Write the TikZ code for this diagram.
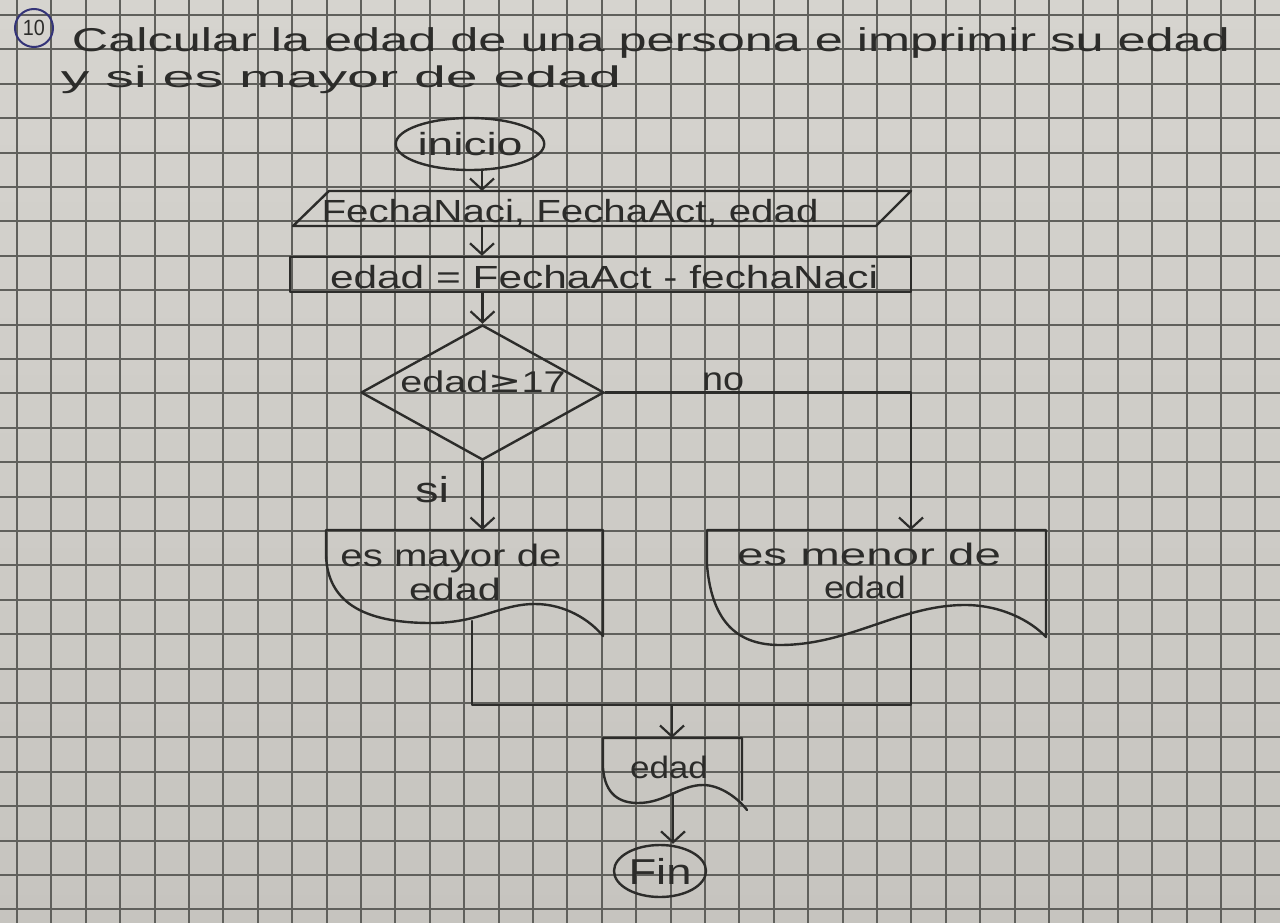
\documentclass[tikz,border=0pt]{standalone}
\usepackage{fontspec}
\setmainfont{Liberation Sans}
\newfontfamily\symfont{DejaVu Sans}
\usepackage{graphicx}
\usetikzlibrary{arrows.meta,shapes.geometric}
\definecolor{paperlight}{RGB}{214,212,207}
\definecolor{paperdark}{RGB}{198,196,191}
\definecolor{gridline}{RGB}{96,96,92}
\definecolor{ink}{RGB}{44,44,42}
\definecolor{penblue}{RGB}{52,52,120}
% handwritten-looking label: width (pt), font size (pt), text
\newcommand{\hw}[3]{\resizebox{#1pt}{\height}{\fontsize{#2pt}{#2pt}\selectfont #3}}

\begin{document}
\begin{tikzpicture}[x=1pt,y=-1pt,
  ink/.style={draw=ink, line width=2.4pt, line cap=round, line join=round},
  arr/.style={ink, -{Straight Barb[length=11pt,width=24pt,line width=2.2pt]}},
  lbl/.style={inner sep=0pt, anchor=base, text=ink},
]
\useasboundingbox (0,0) rectangle (1280,923);
\shade[top color=paperlight, bottom color=paperdark] (0,0) rectangle (1280,923);

% squared paper
\foreach \i in {0,...,36}
  \draw[gridline, line width=2pt] ({17+34.4*\i},0) -- ({17+34.4*\i},923);
\foreach \j in {0,...,26}
  \draw[gridline, line width=2pt] (0,{15+34.4*\j}) -- (1280,{15+34.4*\j});

% heading
\node[circle, draw=penblue, line width=2pt, minimum size=38pt, inner sep=0pt, text=ink] (num) at (34,28) {\hw{22}{22}{10}};
\node[lbl] (t1) at (651,52) {\hw{1158}{33}{Calcular la edad de una persona e imprimir su edad}};
\node[lbl] (t2) at (341,88) {\hw{560}{30}{y si es mayor de edad}};

% start
\node[ink, ellipse, minimum width=136pt, minimum height=52pt, inner sep=0pt, text=ink] (inicio) at (470,144) {\hw{105}{32}{inicio}};

% input parallelogram
\coordinate (pTL) at (329,191);
\coordinate (pTR) at (911,191);
\coordinate (pBR) at (876,226);
\coordinate (pBL) at (293,226);
\draw[ink] (pTL) -- (pTR) -- (pBR) -- (pBL) -- cycle;
\coordinate (pIn) at (482,191);
\coordinate (pOut) at (482,226);
\node[lbl] (datos) at (570,222) {\hw{497}{32}{FechaNaci, FechaAct, edad}};

% process
\node[ink, minimum width=621pt, minimum height=35pt, inner sep=0pt] (calc) at (600.5,274.5) {};
\node[lbl] (calctxt) at (604,288) {\hw{548}{32}{edad = FechaAct - fechaNaci}};

% decision
\node[ink, diamond, aspect=1.8, minimum width=243pt, minimum height=135pt, inner sep=0pt] (dec) at (482.5,392.5) {};
\node[lbl] (dectxt) at (483,392) {\hw{165}{30}{edad{\symfont ≥}17}};
\node[lbl] (no) at (723,390) {\hw{42}{33}{no}};
\node[lbl] (si) at (432,502) {\hw{34}{36}{si}};

\draw[arr] (inicio.south -| pIn) -- (pIn);
\draw[arr] (pOut) -- (calc.north -| pOut);
\draw[arr] (calc.south -| dec.north) -- (dec.north);

% output documents
\coordinate (mayIn) at (479,530);
\coordinate (menIn) at (911,530);
\draw[arr] (dec.south) -- (dec.south |- mayIn);
\draw[arr] (dec.east) -| (menIn);

\coordinate (mayTL) at (326,530);
\coordinate (mayTR) at (603,530);
\draw[ink] (mayTR) -- (mayTL) -- (326,556)
  .. controls (328,600) and (360,623) .. (431,623)
  .. controls (480,623) and (500,604) .. (535,604)
  .. controls (565,604) and (590,620) .. (603,636) -- (mayTR);
\node[lbl] (mayA) at (451,566) {\hw{221}{31}{es mayor de}};
\node[lbl] (mayB) at (455,600) {\hw{92}{31}{edad}};

\coordinate (menTL) at (707,530);
\coordinate (menTR) at (1046,530);
\draw[ink] (menTR) -- (menTL) -- (707,565)
  .. controls (712,625) and (740,645) .. (780,645)
  .. controls (850,645) and (900,605) .. (965,605)
  .. controls (1000,605) and (1030,620) .. (1046,637) -- (menTR);
\node[lbl] (menA) at (869,565) {\hw{264}{31}{es menor de}};
\node[lbl] (menB) at (865,598) {\hw{82}{31}{edad}};

% merge
\coordinate (mayOut) at (472,621);
\coordinate (menOut) at (911,612);
\coordinate (join) at (672,705);
\draw[ink] (mayOut) |- (join) -| (menOut);

% final output
\coordinate (outTL) at (603,738);
\coordinate (outTR) at (742,738);
\draw[arr] (join) -- (join |- outTL);
\draw[ink] (742,800) -- (outTR) -- (outTL) -- (603,768)
  .. controls (605,795) and (620,803) .. (638,803)
  .. controls (665,803) and (680,785) .. (703,785)
  .. controls (720,785) and (738,798) .. (747,810);
\node[lbl] (outtxt) at (669,778) {\hw{78}{31}{edad}};

% end
\node[ink, ellipse, minimum width=92pt, minimum height=52pt, inner sep=0pt, text=ink] (fin) at (660,871) {\hw{63}{36}{Fin}};
\coordinate (outBot) at (673,793);
\draw[arr] (outBot) -- (outBot |- fin.north);
\end{tikzpicture}
\end{document}
